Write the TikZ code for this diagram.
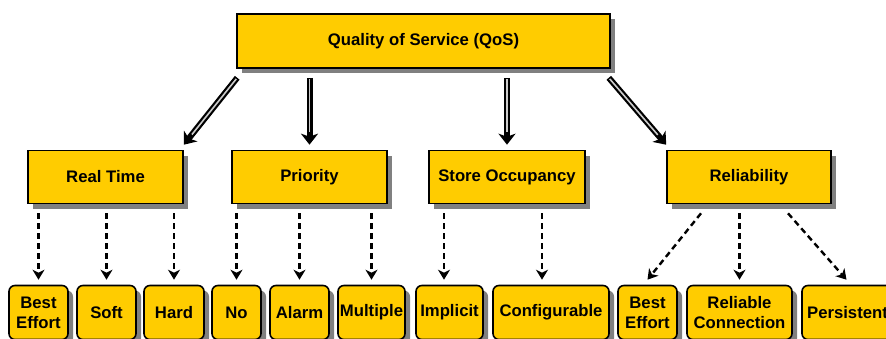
\documentclass[tikz,border=0pt]{standalone}
\usepackage{fontspec}
\setmainfont{Liberation Sans}
\usetikzlibrary{arrows.meta,shadows,calc}

\definecolor{qosgold}{HTML}{FFCC00}
\definecolor{qosshadow}{HTML}{808080}

% heavy hollow arrow: black shaft with a light core line
\newcommand\qosarrow[2]{%
  \draw[shaft] #1 -- #2;
  \draw[shaftcore] #1 -- #2;}

\begin{document}
\begin{tikzpicture}[x=1pt,y=-1pt,
  box/.style={draw=black, line width=1.6pt, fill=qosgold, inner sep=0pt,
    font=\fontsize{16.7}{20}\selectfont\bfseries, align=center,
    drop shadow={shadow xshift=5pt, shadow yshift=-5pt, fill=qosshadow, opacity=1}},
  catbox/.style={box, minimum height=53pt},
  leafbox/.style={box, rounded corners=6pt, minimum height=54pt},
  shaft/.style={line width=6pt, -{Stealth[length=11pt,width=17pt,inset=3pt]}},
  shaftcore/.style={line width=1.6pt, draw=white!80!black, shorten >=13pt, shorten <=1.5pt},
  dasharrow/.style={line width=2.4pt, dash pattern=on 6pt off 4pt,
    -{Stealth[length=10pt,width=12pt,inset=3pt]}}
]
\useasboundingbox (0,0) rectangle (886,338);
\clip (0,0) rectangle (886,338);

% root
\node[catbox, minimum width=373pt, minimum height=54pt] (q) at (423.5,41) {Quality of Service (QoS)};

% categories
\node[catbox, minimum width=155pt] (rt) at (105.5,177) {Real Time};
\node[catbox, minimum width=155pt] (pr) at (309.5,177) {Priority};
\node[catbox, minimum width=156pt] (so) at (507,177) {Store Occupancy};
\node[catbox, minimum width=164pt] (rl) at (749,177) {Reliability};

% leaves
\node[leafbox, minimum width=59pt]  (be1) at (38.5,312.5)  {Best\\Effort};
\node[leafbox, minimum width=59pt]  (sf)  at (106.5,312.5) {Soft};
\node[leafbox, minimum width=60pt]  (hd)  at (174,312.5)   {Hard};
\node[leafbox, minimum width=49pt]  (no)  at (236.5,312.5) {No};
\node[leafbox, minimum width=59pt]  (al)  at (299.5,312.5) {Alarm};
\node[leafbox, minimum width=67pt]  (mu)  at (371.5,312.5) {Multiple};
\node[leafbox, minimum width=67pt]  (im)  at (449.5,312.5) {Implicit};
\node[leafbox, minimum width=116pt] (cf)  at (551,312.5)   {Configurable};
\node[leafbox, minimum width=59pt]  (be2) at (647.5,312.5) {Best\\Effort};
\node[leafbox, minimum width=105pt] (rc)  at (739.5,312.5) {Reliable\\Connection};
\node[leafbox, minimum width=91pt]  (pe)  at (847.5,312.5) {Persistent};

% root to categories
\qosarrow{($(q.south west)+(1,9)$)}{($(rt.north east)+(0,-5)$)}
\qosarrow{($(q.south -| pr.north)+(0,9)$)}{($(pr.north)+(0,-5)$)}
\qosarrow{($(q.south -| so.north)+(0,9)$)}{($(so.north)+(0,-5)$)}
\qosarrow{($(q.south east)+(-2,9)$)}{($(rl.north west)+(0,-5)$)}

% categories to leaves
\draw[dasharrow] ($(be1.north |- rt.south)+(0,9)$) -- ($(be1.north)+(0,-5)$);
\draw[dasharrow] ($(sf.north |- rt.south)+(0,9)$) -- ($(sf.north)+(0,-5)$);
\draw[dasharrow] ($(hd.north |- rt.south)+(0,9)$) -- ($(hd.north)+(0,-5)$);
\draw[dasharrow] ($(no.north |- pr.south)+(0,9)$) -- ($(no.north)+(0,-5)$);
\draw[dasharrow] ($(al.north |- pr.south)+(0,9)$) -- ($(al.north)+(0,-5)$);
\draw[dasharrow] ($(mu.north |- pr.south)+(0,9)$) -- ($(mu.north)+(0,-5)$);
\draw[dasharrow] ($(im.north |- so.south)+(-5.5,9)$) -- ($(im.north)+(-5.5,-5)$);
\draw[dasharrow] ($(cf.north |- so.south)+(-9,9)$) -- ($(cf.north)+(-9,-5)$);
\draw[dasharrow] ($(rl.south)+(-48,9)$) -- ($(be2.north)+(0,-5)$);
\draw[dasharrow] ($(rc.north |- rl.south)+(0,9)$) -- ($(rc.north)+(0,-5)$);
\draw[dasharrow] ($(rl.south)+(39,9)$) -- ($(pe.north)+(-1,-5)$);
\end{tikzpicture}
\end{document}
